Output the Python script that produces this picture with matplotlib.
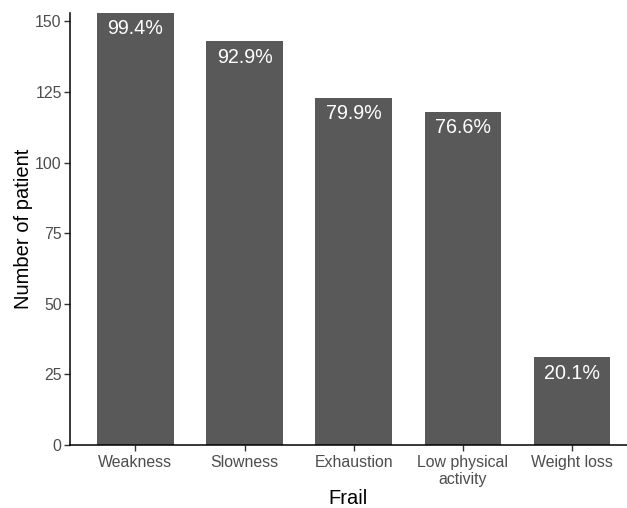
import matplotlib.pyplot as plt

plt.rcParams['font.family'] = ['Liberation Sans', 'DejaVu Sans']

categories = ['Weakness', 'Slowness', 'Exhaustion', 'Low physical\nactivity', 'Weight loss']
counts = [153, 143, 123, 118, 31]
pct_labels = ['99.4%', '92.9%', '79.9%', '76.6%', '20.1%']

W, H = 627, 508
fig = plt.figure(figsize=(W / 100, H / 100), dpi=100)
# axes box in pixels: left 70, right 627, top 13, bottom 445
ax = fig.add_axes([70 / W, (H - 445) / H, (627 - 70) / W, (445 - 13) / H])

x = list(range(len(categories)))
ax.bar(x, counts, width=0.7, color='#595959', zorder=2)

for xi, c, lab in zip(x, counts, pct_labels):
    ax.annotate(lab, (xi, c), xytext=(0, -16), textcoords='offset pixels',
                ha='center', va='center', color='white', fontsize=14.2)

ax.set_xlim(-0.6, 4.505)
ax.set_ylim(0, 153)
ax.set_xticks(x)
ax.set_xticklabels(categories, fontsize=11.4, color='#4D4D4D', linespacing=1.15)
ax.set_yticks([0, 25, 50, 75, 100, 125, 150])
ax.tick_params(axis='y', labelsize=11.4, labelcolor='#4D4D4D', length=4, width=1, color='#333333', pad=2)
ax.tick_params(axis='x', length=4, width=1, color='#333333', pad=3.5)

for s in ['top', 'right']:
    ax.spines[s].set_visible(False)
for s in ['left', 'bottom']:
    ax.spines[s].set_linewidth(1.1)
    ax.spines[s].set_color('black')

ax.set_xlabel('Frail', fontsize=14.5)
ax.set_ylabel('Number of patient', fontsize=14.5)
ax.yaxis.set_label_coords(-37 / 557, 0.5)
ax.xaxis.set_label_coords(0.5, -44 / 432)

fig.savefig('out.png', dpi=100)
